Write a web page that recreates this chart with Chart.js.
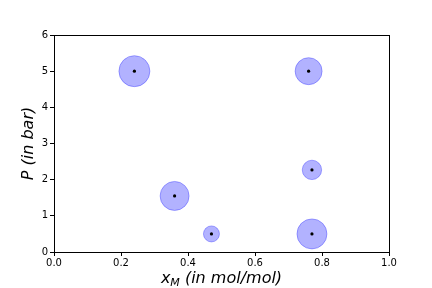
<!DOCTYPE html>
<html>
<head>
<meta charset="utf-8">
<script src="https://cdn.jsdelivr.net/npm/chart.js@4/dist/chart.umd.min.js"></script>
<style>
  html, body { margin: 0; padding: 0; background: #fff; }
  #wrap { width: 432px; height: 288px; }
</style>
</head>
<body>
<div id="wrap"><canvas id="chart" width="432" height="288"></canvas></div>
<script>
// mole fraction x_M, pressure P, bubble radius
const xM = [0.24, 0.76, 0.36, 0.47, 0.77, 0.77];
const pBar = [5.0, 5.0, 1.55, 0.5, 2.27, 0.5];
const radii = [15.5, 13.5, 14.5, 8, 9.7, 15];
const xTicks = [0, 0.2, 0.4, 0.6, 0.8, 1.0];
const yTicks = [0, 1, 2, 3, 4, 5, 6];

const bubbles = xM.map((x, i) => ({ x: x, y: pBar[i], r: radii[i] }));
const centers = xM.map((x, i) => ({ x: x, y: pBar[i] }));

// full box around the plot + x title with subscript
const frame = {
  id: 'frame',
  afterDraw(chart) {
    const { ctx, chartArea: a } = chart;
    ctx.save();
    ctx.strokeStyle = '#000';
    ctx.lineWidth = 1;
    ctx.strokeRect(Math.round(a.left) + 0.5, Math.round(a.top) + 0.5,
      Math.round(a.right - a.left), Math.round(a.bottom - a.top));

    ctx.fillStyle = '#000';
    ctx.textBaseline = 'alphabetic';
    const big = 'italic 16px "DejaVu Sans"';
    const small = 'italic 11px "DejaVu Sans"';
    ctx.font = big; const w1 = ctx.measureText('x').width;
    ctx.font = small; const w2 = ctx.measureText('M').width;
    ctx.font = big; const w3 = ctx.measureText(' (in mol/mol)').width;
    let x0 = (a.left + a.right) / 2 - (w1 + w2 + w3) / 2;
    const base = 283;
    ctx.font = big; ctx.fillText('x', x0, base); x0 += w1;
    ctx.font = small; ctx.fillText('M', x0, base + 3); x0 += w2;
    ctx.font = big; ctx.fillText(' (in mol/mol)', x0, base);
    ctx.restore();
  }
};

new Chart(document.getElementById('chart'), {
  type: 'bubble',
  data: {
    datasets: [
      { data: centers, type: 'scatter', order: 0, pointRadius: 1.6, pointBackgroundColor: '#000', pointBorderWidth: 0 },
      { data: bubbles, order: 1, backgroundColor: 'rgba(0,0,255,0.3)', borderColor: 'rgba(0,0,255,0.3)', borderWidth: 1 }
    ]
  },
  options: {
    responsive: false,
    animation: false,
    events: [],
    layout: { padding: { left: 19, right: 43, top: 35, bottom: 0 } },
    plugins: { legend: { display: false }, tooltip: { enabled: false } },
    scales: {
      x: {
        type: 'linear', min: 0, max: 1,
        afterBuildTicks: s => { s.ticks = xTicks.map(v => ({ value: v })); },
        afterFit: s => { s.height = 36; },
        ticks: { color: '#000', font: { family: 'DejaVu Sans', size: 10 }, padding: 1, callback: v => v.toFixed(1) },
        grid: { drawOnChartArea: false, drawTicks: true, tickLength: 4, color: '#000' },
        border: { display: true, color: '#000' }
      },
      y: {
        type: 'linear', min: 0, max: 6,
        afterBuildTicks: s => { s.ticks = yTicks.map(v => ({ value: v })); },
        afterFit: s => { s.width = 35; },
        ticks: { color: '#000', font: { family: 'DejaVu Sans', size: 10 }, padding: 2 },
        grid: { drawOnChartArea: false, drawTicks: true, tickLength: 4, color: '#000' },
        border: { display: true, color: '#000' },
        title: { display: true, text: 'P (in bar)', color: '#000', font: { family: 'DejaVu Sans', size: 16, style: 'italic' }, padding: { top: 0, bottom: 0 } }
      }
    }
  },
  plugins: [frame]
});
</script>
</body>
</html>
